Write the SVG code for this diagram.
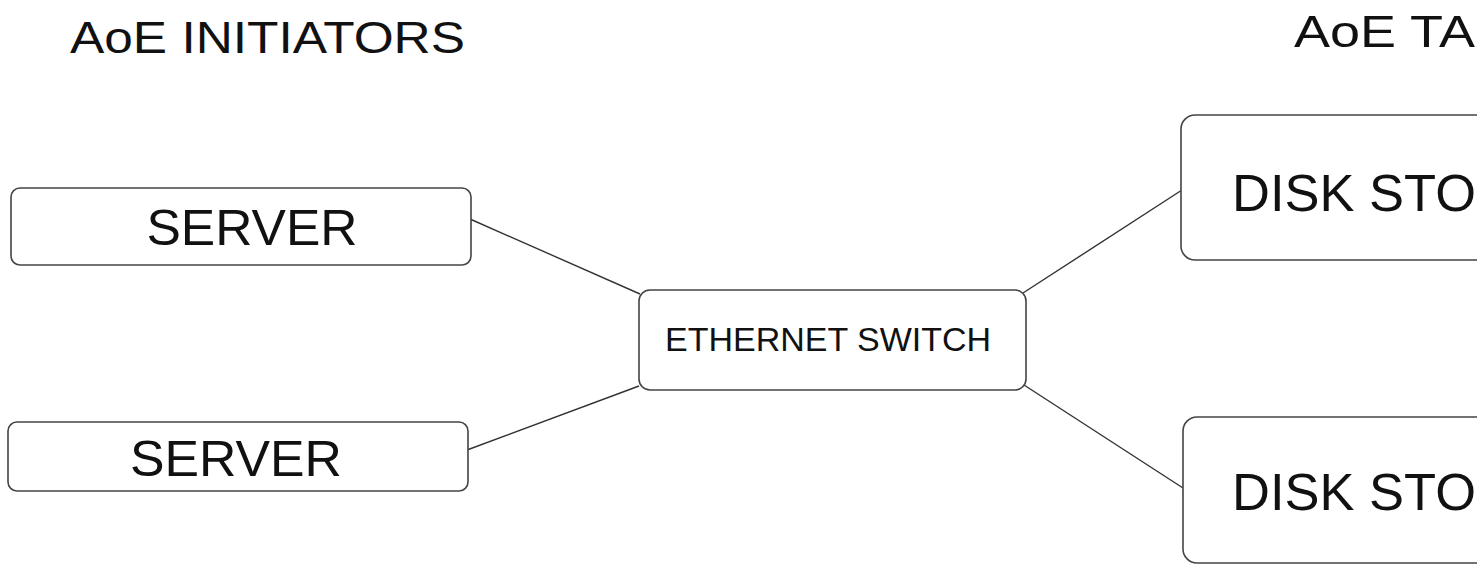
<svg xmlns="http://www.w3.org/2000/svg" width="1477" height="564" viewBox="0 0 1477 564">
<style>
.box{fill:#ffffff;stroke:#444;stroke-width:1.6}
.lbl{font-family:"Liberation Sans",Arial,sans-serif;fill:#111;text-anchor:middle}
.ttl{font-family:"Liberation Sans",Arial,sans-serif;fill:#111;font-size:44px}
.edge{stroke:#333;stroke-width:1.4;fill:none}
</style>
<rect width="1477" height="564" fill="#ffffff"/>
<g id="title-initiators"><text class="ttl" x="70" y="53" textLength="395" lengthAdjust="spacingAndGlyphs">AoE INITIATORS</text></g>
<g id="title-targets"><text class="ttl" x="1294" y="47" textLength="181" lengthAdjust="spacingAndGlyphs">AoE TA</text></g>
<g id="connectors">
<line class="edge" x1="470" y1="219" x2="640" y2="294"/>
<line class="edge" x1="467" y1="450" x2="639" y2="386"/>
<line class="edge" x1="1023" y1="293" x2="1182" y2="190"/>
<line class="edge" x1="1024" y1="385" x2="1183" y2="488"/>
</g>
<g id="server1"><rect class="box" x="11" y="188" width="460" height="77" rx="9"/><text class="lbl" x="252" y="245" font-size="50" textLength="211" lengthAdjust="spacingAndGlyphs">SERVER</text></g>
<g id="server2"><rect class="box" x="8" y="422" width="460" height="69" rx="9"/><text class="lbl" x="236" y="476" font-size="50" textLength="212" lengthAdjust="spacingAndGlyphs">SERVER</text></g>
<g id="switch"><rect class="box" x="639" y="290" width="387" height="100" rx="11"/><text class="lbl" x="828" y="351" font-size="33" textLength="326" lengthAdjust="spacingAndGlyphs">ETHERNET SWITCH</text></g>
<g id="disk1"><rect class="box" x="1181" y="115" width="320" height="145" rx="14"/><text class="lbl" x="1354" y="211" font-size="52" textLength="244" lengthAdjust="spacingAndGlyphs">DISK STO</text></g>
<g id="disk2"><rect class="box" x="1183" y="417" width="320" height="146" rx="14"/><text class="lbl" x="1354" y="510" font-size="52" textLength="244" lengthAdjust="spacingAndGlyphs">DISK STO</text></g>
</svg>
